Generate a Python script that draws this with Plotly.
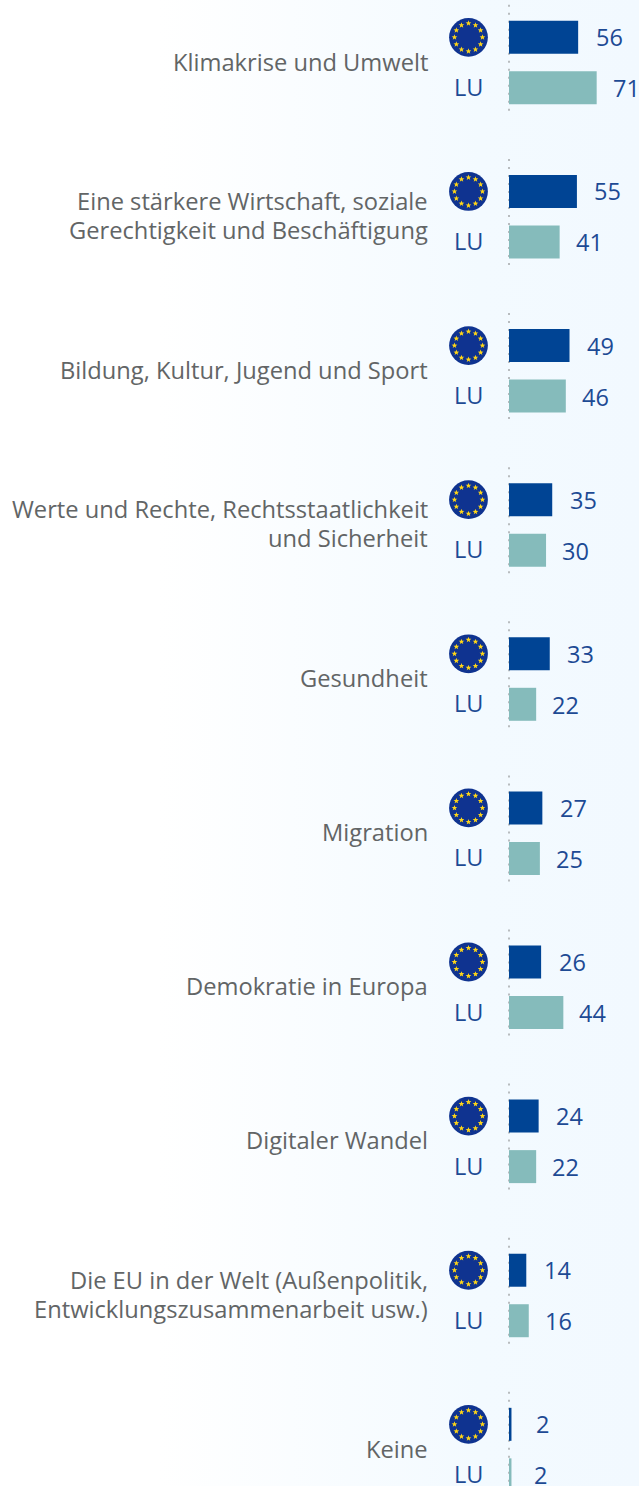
import plotly.graph_objects as go
import base64, math

categories = ["Klimakrise und Umwelt",
              "Eine stärkere Wirtschaft, soziale<br>Gerechtigkeit und Beschäftigung",
              "Bildung, Kultur, Jugend und Sport",
              "Werte und Rechte, Rechtsstaatlichkeit<br>und Sicherheit",
              "Gesundheit", "Migration", "Demokratie in Europa", "Digitaler Wandel",
              "Die EU in der Welt (Außenpolitik,<br>Entwicklungszusammenarbeit usw.)",
              "Keine"]
eu_values = [56, 55, 49, 35, 33, 27, 26, 24, 14, 2]
lu_values = [71, 41, 46, 30, 22, 25, 44, 22, 16, 2]

W, H = 639, 1486
PITCH = 154.11
PX_PER_UNIT = 1.235
X0 = 509
Y_FIRST = 62.6
NAVY, TEAL = "#004494", "#85BBBB"
VALUE_C, LABEL_C = "#1D4A94", "#626566"
FONT = "Open Sans"


def uri(svg):
    return "data:image/svg+xml;base64," + base64.b64encode(svg.encode()).decode()


def star(cx, cy, r):
    pts = []
    for k in range(10):
        a = -math.pi / 2 + k * math.pi / 5
        q = r if k % 2 == 0 else r * 0.42
        pts.append(f"{cx + q * math.cos(a):.2f},{cy + q * math.sin(a):.2f}")
    return f'<polygon points="{" ".join(pts)}" fill="#FFD617"/>'


flag = '<svg xmlns="http://www.w3.org/2000/svg" width="120" height="120" viewBox="0 0 40 40">'
flag += '<circle cx="20" cy="20" r="19.4" fill="#0F3390"/>'
for k in range(12):
    a = k * math.pi / 6
    flag += star(20 + 14 * math.cos(a), 20 + 14 * math.sin(a), 3.0)
flag += "</svg>"

bg = ('<svg xmlns="http://www.w3.org/2000/svg" width="639" height="1486">'
      '<defs><linearGradient id="g" x1="0" y1="0" x2="1" y2="0">'
      '<stop offset="0.25" stop-color="#FFFFFF"/><stop offset="0.75" stop-color="#F3FAFF"/>'
      '<stop offset="1" stop-color="#F2F9FF"/></linearGradient></defs>'
      '<rect width="639" height="1486" fill="url(#g)"/></svg>')

fig = go.Figure()
fig.add_bar(y=categories, x=eu_values, orientation="h", marker=dict(color=NAVY, line_width=0),
            name="EU", hoverinfo="skip")
fig.add_bar(y=categories, x=lu_values, orientation="h", marker=dict(color=TEAL, line_width=0),
            name="LU", hoverinfo="skip")

images = [dict(source=uri(bg), xref="paper", yref="paper", x=0, y=1, sizex=1, sizey=1,
               xanchor="left", yanchor="top", sizing="stretch", layer="below")]
annotations = []
shapes = []
OFF = 25.25
LABEL_SIZE = 23.7
LINE_H = 29
for i, c in enumerate(categories):
    lines = c.split("<br>")
    for j, line in enumerate(lines):
        annotations.append(dict(x=-66.0, y=i, text=line, xanchor="right", yanchor="middle", align="right",
                                xshift=3, yshift=1.0 - LINE_H * (j - (len(lines) - 1) / 2), showarrow=False,
                                font=dict(family=FONT, size=LABEL_SIZE, color=LABEL_C)))
    annotations.append(dict(x=-32.8, y=i, text="LU", xanchor="center", yanchor="middle",
                            xshift=0.5, yshift=-OFF + 1, showarrow=False,
                            font=dict(family=FONT, size=23.5, color=VALUE_C)))
    annotations.append(dict(x=eu_values[i], y=i, text=str(eu_values[i]), xanchor="center", yanchor="middle",
                            xshift=31, yshift=OFF, showarrow=False,
                            font=dict(family=FONT, size=23.5, color=VALUE_C)))
    annotations.append(dict(x=lu_values[i], y=i, text=str(lu_values[i]), xanchor="center", yanchor="middle",
                            xshift=29.5, yshift=-OFF - 0.5, showarrow=False,
                            font=dict(family=FONT, size=23.5, color=VALUE_C)))
    images.append(dict(source=uri(flag), xref="x", yref="y", x=-32.8, y=i - OFF / PITCH,
                       sizex=40 / PX_PER_UNIT, sizey=40 / PITCH, xanchor="center", yanchor="middle",
                       sizing="stretch", layer="above"))
    shapes.append(dict(type="line", xref="x", yref="y", x0=0, x1=0,
                       y0=i - 57.75 / PITCH, y1=i + 54.25 / PITCH, layer="below",
                       line=dict(color="#A5A8AA", width=1.5, dash="2px,6px")))

fig.update_layout(
    width=W, height=H, margin=dict(l=0, r=0, t=0, b=0), autosize=False,
    paper_bgcolor="white", plot_bgcolor="rgba(0,0,0,0)", showlegend=False,
    barmode="group", bargap=1 - 2 * 50.5 / PITCH, bargroupgap=1 - 33 / 50.5,
    images=images, annotations=annotations, shapes=shapes,
    xaxis=dict(range=[-X0 / PX_PER_UNIT, (W - X0) / PX_PER_UNIT], visible=False, fixedrange=True),
    yaxis=dict(type="category", categoryorder="array", categoryarray=categories,
               range=[(H - Y_FIRST) / PITCH, -Y_FIRST / PITCH], visible=False, fixedrange=True),
)
fig.write_html("out.html", config={"displayModeBar": False},
               post_script="document.body.style.margin='0';document.body.style.overflow='hidden';")
